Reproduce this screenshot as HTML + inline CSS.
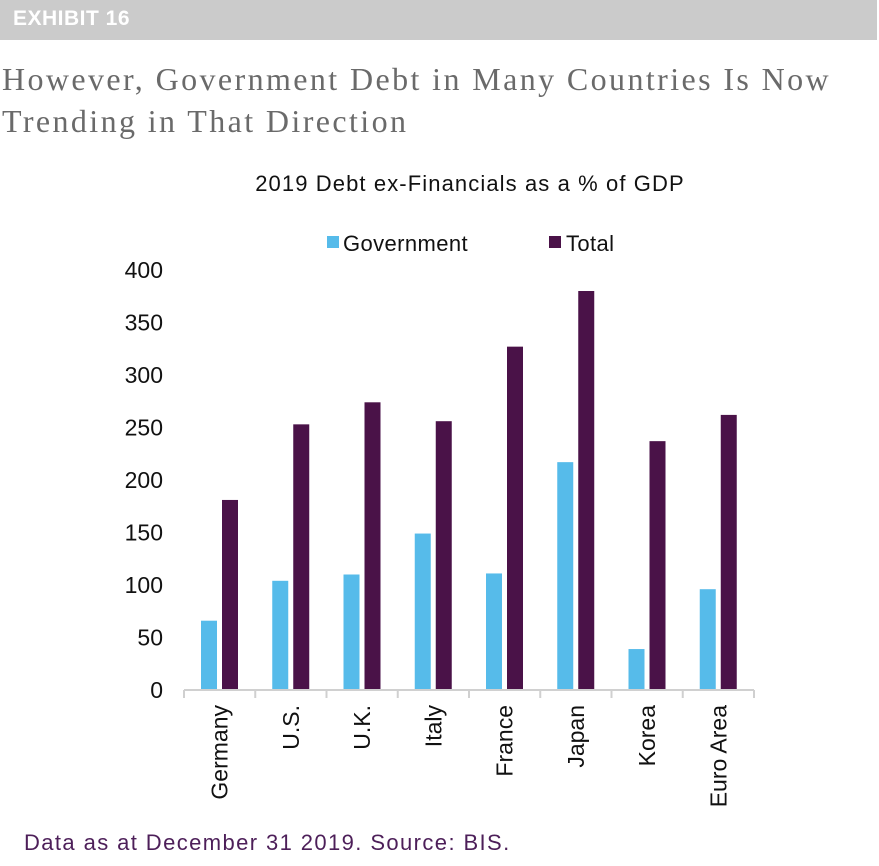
<!DOCTYPE html>
<html><head><meta charset="utf-8"><style>
body{margin:0;width:879px;height:866px;background:#fff;overflow:hidden;font-family:"Liberation Sans",sans-serif;}
#banner{position:absolute;left:0;top:0;width:877px;height:40px;background:#cbcbcb;}
#banner span{position:absolute;left:13px;top:7px;color:#fff;font-weight:bold;font-size:21px;letter-spacing:0.5px;}
#title{position:absolute;left:2px;top:58px;font-family:"Liberation Serif",serif;font-size:32px;line-height:42px;color:#6a6a6a;letter-spacing:2.4px;}
#foot{position:absolute;left:24px;top:830px;font-size:22px;color:#4d1f59;letter-spacing:1.4px;}
</style></head><body>
<div id="banner"><span>EXHIBIT 16</span></div>
<div id="title">However, Government Debt in Many Countries Is Now<br>Trending in That Direction</div>
<svg id="chart" width="879" height="866" style="position:absolute;left:0;top:0"></svg>
<div id="foot">Data as at December 31 2019. Source: BIS.</div>
<script>
const categories=["Germany","U.S.","U.K.","Italy","France","Japan","Korea","Euro Area"];
const government=[66,104,110,149,111,217,39,96];
const total=[181,253,274,256,327,380,237,262];
const yTicks=[0,50,100,150,200,250,300,350,400];
const NS="http://www.w3.org/2000/svg";
const svg=document.getElementById('chart');
const x0=184,x1=754,yBase=690,yTop=270,yMax=400;
const bw=(x1-x0)/categories.length;
function y(v){return yBase-(v/yMax)*(yBase-yTop);}
function mk(t,a,p){const e=document.createElementNS(NS,t);for(const k in a)e.setAttribute(k,a[k]);(p||svg).appendChild(e);return e;}
let t=mk('text',{x:470,y:191,'text-anchor':'middle','font-size':22,'letter-spacing':1.1,fill:'#111'});t.textContent="2019 Debt ex-Financials as a % of GDP";


let g=mk('g',{});


let r=mk('rect',{x:327,y:236,width:12,height:12,fill:'#56bbea'},g);


t=mk('text',{x:343,y:251,'font-size':22,'letter-spacing':0.4,fill:'#111'},g);t.textContent="Government";


r=mk('rect',{x:549,y:236,width:12,height:12,fill:'#4a1248'},g);


t=mk('text',{x:566,y:251,'font-size':22,'letter-spacing':0.4,fill:'#111'},g);t.textContent="Total";


yTicks.forEach(v=>{const e=mk('text',{x:163,y:y(v)+8,'text-anchor':'end','font-size':23,fill:'#111'});e.textContent=v;

});
categories.forEach((c,i)=>{
const cx=x0+i*bw;
let b=mk('rect',{x:cx+17,y:y(government[i]),width:16,height:yBase-y(government[i]),fill:'#56bbea'});


b=mk('rect',{x:cx+38,y:y(total[i]),width:16,height:yBase-y(total[i]),fill:'#4a1248'});


const lx=cx+bw/2+8;
const l=mk('text',{x:lx,y:705,'text-anchor':'end','font-size':23,fill:'#111',transform:`rotate(-90 ${lx} 705)`});l.textContent=c;


});
const ax=mk('path',{d:`M${x0} ${yBase}H${x1}`+categories.map((c,i)=>`M${x0+i*bw} ${yBase}v8`).join('')+`M${x1} ${yBase}v8`,stroke:'#d0d0d0','stroke-width':2,fill:'none'});


</script>
</body></html>
